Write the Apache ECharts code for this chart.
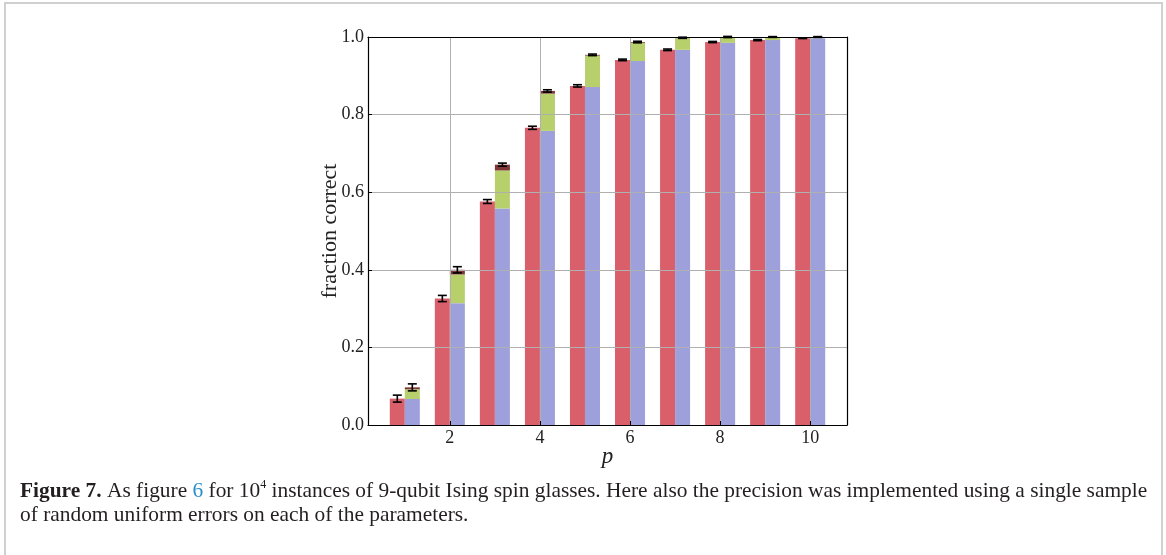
<!DOCTYPE html>
<html><head><meta charset="utf-8">
<script src="https://cdn.jsdelivr.net/npm/echarts@6/dist/echarts.min.js"></script>
<style>html,body{margin:0;padding:0;background:#fff}#c{width:1166px;height:555px}</style>
</head><body><div id="c"></div>
<script>
// ---- data ----
const pValues = [1, 2, 3, 4, 5, 6, 7, 8, 9, 10];
const redValues = [0.068, 0.326, 0.576, 0.766, 0.874, 0.941, 0.967, 0.987, 0.992, 0.997];
const redErrors = [0.009, 0.008, 0.005, 0.004, 0.003, 0.002, 0.002, 0.0015, 0.0015, 0.001];
const blueValues = [0.067, 0.314, 0.558, 0.758, 0.871, 0.938, 0.967, 0.985, 0.992, 0.997];
const greenTops = [0.092, 0.388, 0.656, 0.854, 0.952, 0.985, 0.997, 1.0, 1.0, 1.0];
const darkTops = [0.097, 0.400, 0.671, 0.861, 0.954, 0.987, 0.998, 1.0, 1.0, 1.0];
const stackErrors = [0.009, 0.008, 0.004, 0.003, 0.002, 0.002, 0.0015, 0.0015, 0.001, 0.001];
const xTickValues = [2, 4, 6, 8, 10];
const barWidth = 1 / 3;

const RED = '#d9606a', BLUE = '#9ea0dc', GREEN = '#b8d06c', DARK = '#7e3535';
const SERIF = '"Liberation Serif", "DejaVu Serif", serif';

function segSeries(rows, color) {
  return {
    type: 'custom', xAxisIndex: 0, yAxisIndex: 0, z: 2, clip: true,
    data: rows,
    renderItem: function (params, api) {
      const p = api.value(0), lo = api.value(1), hi = api.value(2), off = api.value(3);
      const a = api.coord([p + off, lo]);
      const b = api.coord([p + off + barWidth, hi]);
      return { type: 'rect', shape: { x: a[0], y: b[1], width: b[0] - a[0], height: a[1] - b[1] },
        style: { fill: color } };
    }
  };
}
function errSeries(rows) {
  return {
    type: 'custom', xAxisIndex: 0, yAxisIndex: 0, z: 6, clip: false,
    data: rows,
    renderItem: function (params, api) {
      const x = api.value(0), v = api.value(1), e = api.value(2);
      const top = api.coord([x, v + e]);
      const bot = api.coord([x, v - e]);
      const cw = 4.5;
      const st = { stroke: '#000', lineWidth: 1.6 };
      return { type: 'group', children: [
        { type: 'line', shape: { x1: top[0], y1: top[1], x2: bot[0], y2: bot[1] }, style: st },
        { type: 'line', shape: { x1: top[0] - cw, y1: top[1], x2: top[0] + cw, y2: top[1] }, style: st },
        { type: 'line', shape: { x1: bot[0] - cw, y1: bot[1], x2: bot[0] + cw, y2: bot[1] }, style: st }
      ]};
    }
  };
}
// vertical grid lines at the x tick values, drawn through the x scale
function vGridSeries() {
  return {
    type: 'custom', xAxisIndex: 0, yAxisIndex: 0, z: 4, clip: true, silent: true,
    data: xTickValues.map(v => [v]),
    renderItem: function (params, api) {
      const a = api.coord([api.value(0), 0]);
      const b = api.coord([api.value(0), 1]);
      const x = Math.round(a[0]) + 0.5;
      return { type: 'line', shape: { x1: x, y1: a[1], x2: x, y2: b[1] }, style: { stroke: '#b0b0b0', lineWidth: 1 } };
    }
  };
}

const redRows = pValues.map((p, i) => [p, 0, redValues[i], -barWidth]);
const blueRows = pValues.map((p, i) => [p, 0, blueValues[i], 0]);
const greenRows = pValues.map((p, i) => [p, blueValues[i], greenTops[i], 0]);
const darkRows = pValues.map((p, i) => [p, greenTops[i], darkTops[i], 0]);
const redErrRows = pValues.map((p, i) => [p - barWidth / 2, redValues[i], redErrors[i]]);
const stackErrRows = pValues.map((p, i) => [p + barWidth / 2, darkTops[i], stackErrors[i]]);

const chart = echarts.init(document.getElementById('c'), null, { renderer: 'canvas' });
const labelStyle = { fontFamily: SERIF, fontSize: 18, color: '#222' };
chart.setOption({
  animation: false,
  backgroundColor: '#fff',
  grid: { left: 368, top: 37, width: 479, height: 388, containLabel: false },
  xAxis: [{
    type: 'value', min: 0.183, max: 10.817, z: 5,
    axisLine: { show: true, onZero: false, lineStyle: { color: '#000', width: 1.2 } },
    axisTick: { show: true, inside: true, length: 4, lineStyle: { color: '#000' }, customValues: xTickValues },
    axisLabel: Object.assign({ margin: 4, customValues: xTickValues,
      formatter: v => String(v) }, labelStyle),
    splitLine: { show: false },
    name: 'p', nameLocation: 'middle', nameGap: 20, nameMoveOverlap: false,
    nameTextStyle: { fontFamily: SERIF, fontStyle: 'italic', fontSize: 23, color: '#222' }
  }, {
    type: 'value', position: 'top', min: 0.183, max: 10.817, z: 5,
    axisLine: { show: true, onZero: false, lineStyle: { color: '#000', width: 1.2 } },
    axisTick: { show: false }, axisLabel: { show: false }, splitLine: { show: false }
  }],
  yAxis: [{
    type: 'value', min: 0, max: 1, interval: 0.2, z: 5,
    axisLine: { show: true, onZero: false, lineStyle: { color: '#000', width: 1.2 } },
    axisTick: { show: true, inside: true, length: 4, lineStyle: { color: '#000' } },
    axisLabel: Object.assign({ margin: 4, formatter: v => v.toFixed(1) }, labelStyle),
    splitLine: { show: true, lineStyle: { color: '#b0b0b0', width: 1 } },
    name: 'fraction correct', nameLocation: 'middle', nameGap: 27, nameMoveOverlap: false,
    nameTextStyle: { fontFamily: SERIF, fontSize: 22, color: '#222' }
  }, {
    type: 'value', position: 'right', min: 0, max: 1, z: 5,
    axisLine: { show: true, onZero: false, lineStyle: { color: '#000', width: 1.2 } },
    axisTick: { show: false }, axisLabel: { show: false }, splitLine: { show: false }
  }],
  series: [
    segSeries(redRows, RED),
    segSeries(blueRows, BLUE),
    segSeries(greenRows, GREEN),
    segSeries(darkRows, DARK),
    vGridSeries(),
    errSeries(redErrRows),
    errSeries(stackErrRows)
  ],
  graphic: [
    { type: 'rect', shape: { x: 5, y: 3, width: 1157, height: 560 }, style: { fill: null, stroke: '#d0d0d0', lineWidth: 2 }, silent: true, z: -1 },
    { type: 'text', left: 20, top: 479, z: 10,
      style: {
        text: '{b|Figure 7.} As figure {l|6} for 10{s|4} instances of 9-qubit Ising spin glasses. Here also the precision was implemented using a single sample\nof random uniform errors on each of the parameters.',
        fontFamily: SERIF, fontSize: 21.4, lineHeight: 24, fill: '#231f20',
        rich: {
          b: { fontFamily: SERIF, fontSize: 21.4, fontWeight: 'bold', fill: '#231f20' },
          l: { fontFamily: SERIF, fontSize: 21.4, fill: '#2a8fc9' },
          s: { fontFamily: SERIF, fontSize: 12, fill: '#231f20', verticalAlign: 'top', lineHeight: 24 }
        }
      }
    }
  ]
});
</script></body></html>
